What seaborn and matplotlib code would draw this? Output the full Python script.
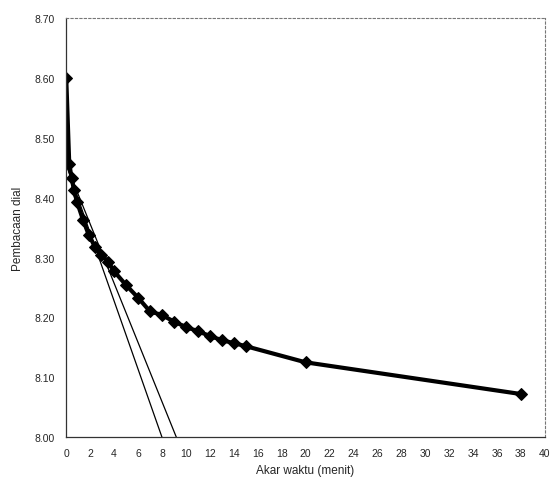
import numpy as np
import pandas as pd
import seaborn as sns
import matplotlib.pyplot as plt

# akar waktu (sqrt menit) dan pembacaan dial
akar_waktu = [0, 0.25, 0.45, 0.65, 0.9, 1.4, 1.9, 2.4, 2.9, 3.5, 4, 5, 6, 7, 8, 9, 10, 11, 12, 13, 14, 15, 20, 38]
pembacaan = [8.600, 8.457, 8.433, 8.412, 8.393, 8.363, 8.337, 8.318, 8.305, 8.293, 8.277, 8.254,
             8.233, 8.210, 8.204, 8.193, 8.184, 8.177, 8.169, 8.162, 8.157, 8.152, 8.125, 8.072]

# garis bantu metode Taylor
garis1_x = [0, 8.0]
garis1_y = [8.455, 8.00]
garis2_x = [0, 9.2]
garis2_y = [8.455, 8.00]

x_ticks = list(range(0, 41, 2))
y_ticks = [8.00, 8.10, 8.20, 8.30, 8.40, 8.50, 8.60, 8.70]

sns.set_style("white")
plt.rcParams['font.family'] = ['Liberation Sans', 'DejaVu Sans']

df = pd.DataFrame({"x": akar_waktu, "y": pembacaan})

fig = plt.figure(figsize=(5.52, 4.89), dpi=100)
ax = fig.add_axes([0.12, 0.104, 0.867, 0.857])

sns.lineplot(x=garis1_x, y=garis1_y, ax=ax, color="black", linewidth=0.9)
sns.lineplot(x=garis2_x, y=garis2_y, ax=ax, color="black", linewidth=0.9)
sns.lineplot(data=df, x="x", y="y", ax=ax, color="black", linewidth=3.0,
             marker="D", markersize=6, markerfacecolor="black", markeredgecolor="black")

ax.set_xlim(0, 40)
ax.set_ylim(8.00, 8.70)
ax.set_xticks(x_ticks)
ax.set_xticklabels([str(t) for t in x_ticks], fontsize=7.5)
ax.set_yticks(y_ticks)
ax.set_yticklabels([f"{t:.2f}" for t in y_ticks], fontsize=7.5)
ax.tick_params(axis="both", length=0, pad=8)

ax.set_xlabel("Akar waktu (menit)", fontsize=8.5, labelpad=4)
ax.set_ylabel("Pembacaan dial", fontsize=8.5, labelpad=8)

for s in ["left", "bottom"]:
    ax.spines[s].set_color("#333333")
    ax.spines[s].set_linewidth(0.9)
for s in ["top", "right"]:
    ax.spines[s].set_color("#777777")
    ax.spines[s].set_linewidth(0.8)
    ax.spines[s].set_linestyle((0, (2, 2)))

fig.savefig("out.png", dpi=100)
